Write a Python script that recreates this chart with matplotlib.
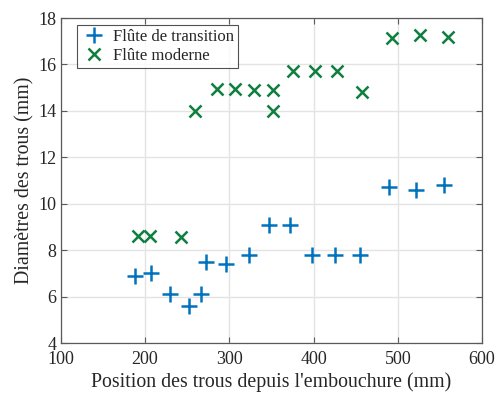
import numpy as np
import matplotlib
matplotlib.use('Agg')
import matplotlib.pyplot as plt

# data (mm)
pos_transition = [188, 207, 230, 252, 267, 272, 296, 323, 347, 372, 398, 425, 455, 489, 522, 555]
diam_transition = [6.9, 7.0, 6.1, 5.6, 6.1, 7.5, 7.4, 7.8, 9.1, 9.1, 7.8, 7.8, 7.8, 10.7, 10.6, 10.8]

pos_moderne = [192, 206, 243, 260, 285, 307, 329, 352, 352, 376, 402, 428, 458, 493, 526, 559]
diam_moderne = [8.6, 8.6, 8.55, 14.0, 14.95, 14.95, 14.9, 14.9, 14.0, 15.7, 15.7, 15.7, 14.8, 17.15, 17.25, 17.2]

xticks = [100, 200, 300, 400, 500, 600]
yticks = [4, 6, 8, 10, 12, 14, 16, 18]

plt.rcParams['font.family'] = ['Liberation Serif', 'DejaVu Serif']
txt_col = '#262626'

fig = plt.figure(figsize=(4.97, 3.94), dpi=100)
ax = fig.add_axes([0.122, 0.1294, 0.848, 0.8249])

ax.plot(pos_transition, diam_transition, linestyle='none', marker='+',
        markersize=11.5, markeredgewidth=1.8, color='#0072BD',
        label='Flûte de transition', zorder=3)
ax.plot(pos_moderne, diam_moderne, linestyle='none', marker='x',
        markersize=8.5, markeredgewidth=1.8, color='#0E7F3E',
        label='Flûte moderne', zorder=3)

ax.set_xlim(100, 600)
ax.set_ylim(4, 18)
ax.set_xticks(xticks)
ax.set_yticks(yticks)
ax.grid(True, color='#e3e3e3', linewidth=1.0)
ax.set_axisbelow(True)

ax.tick_params(direction='in', top=True, right=True, length=4, width=0.8,
               colors='#5a5a5a', labelcolor=txt_col, labelsize=13, pad=3)
ax.tick_params(axis='x', pad=6)
for s in ax.spines.values():
    s.set_color('#5a5a5a')
    s.set_linewidth(0.9)

ax.set_xlabel("Position des trous depuis l'embouchure (mm)", fontsize=14.3,
              color=txt_col, labelpad=2.5)
ax.set_ylabel('Diamètres des trous (mm)', fontsize=14.3, color=txt_col, labelpad=3)

leg = ax.legend(loc='upper left', bbox_to_anchor=(0.039, 0.978), borderaxespad=0,
                fontsize=12, frameon=True, fancybox=False,
                borderpad=0.25, handletextpad=0.4, labelspacing=0.15,
                handlelength=1.5)
leg.get_frame().set_edgecolor('#262626')
leg.get_frame().set_linewidth(0.8)
for t in leg.get_texts():
    t.set_color(txt_col)

fig.savefig('out.png', dpi=100)
